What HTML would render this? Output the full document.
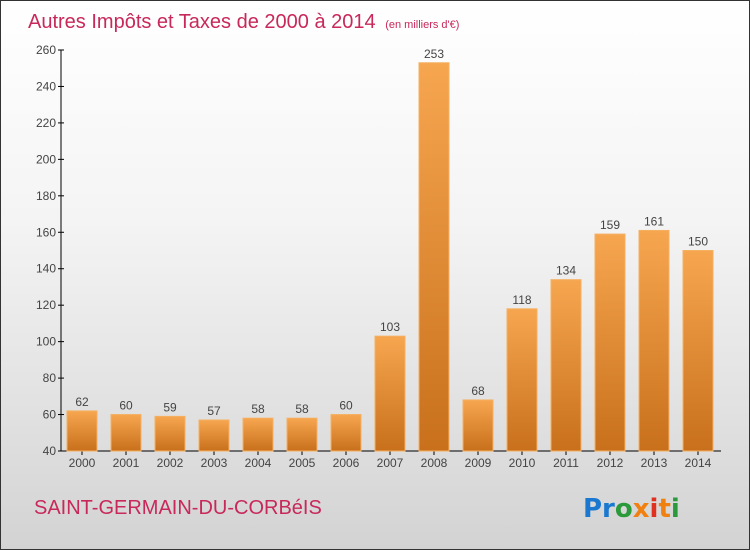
<!DOCTYPE html>
<html><head><meta charset="utf-8"><style>
body{margin:0;}
#wrap{position:relative;width:748px;height:548px;border:1px solid #333;background:linear-gradient(#ffffff,#f4f4f4 40%,#d3d3d3);font-family:"Liberation Sans",sans-serif;overflow:hidden}
</style></head><body>
<div id="wrap">
<svg id="chart" width="748" height="548">
<defs><linearGradient id="bg" x1="0" y1="0" x2="0" y2="1"><stop offset="0" stop-color="#f7a650"/><stop offset="1" stop-color="#c8701c"/></linearGradient></defs>
<text x="27" y="27" font-size="20" fill="#c8285a">Autres Impôts et Taxes de 2000 à 2014 <tspan font-size="11" dx="4">(en milliers d'€)</tspan></text>
<text x="33" y="513" font-size="20" fill="#c8285a">SAINT-GERMAIN-DU-CORBéIS</text>
<g font-size="26" font-weight="bold" font-family="'DejaVu Sans',sans-serif">
<text x="582" y="516"><tspan fill="#1a78d0">Pr</tspan><tspan fill="#2a9a3a">o</tspan><tspan fill="#f08010">x</tspan><tspan fill="#e03020">i</tspan><tspan fill="#f08010">t</tspan><tspan fill="#2a9a3a">i</tspan></text></g>
<g id="axes"></g><g id="bars"></g>
</svg></div>
<script>
const categories=["2000","2001","2002","2003","2004","2005","2006","2007","2008","2009","2010","2011","2012","2013","2014"];
const values=[62,60,59,57,58,58,60,103,253,68,118,134,159,161,150];
const ticks=[40,60,80,100,120,140,160,180,200,220,240,260];
const NS="http://www.w3.org/2000/svg";
const y0=450,yTop=49,vMin=40,vMax=260;
const y=v=>y0-(v-vMin)/(vMax-vMin)*(y0-yTop);
const x=i=>66+i*44;
const bw=30;
function mk(t,a,p){const e=document.createElementNS(NS,t);for(const k in a)e.setAttribute(k,a[k]);p.appendChild(e);return e;}
const ax=document.getElementById('axes'),bs=document.getElementById('bars');
let l=mk('line',{x1:60,y1:yTop,x2:60,y2:y0,stroke:'#000'},ax);


l=mk('line',{x1:60,y1:y0,x2:720,y2:y0,stroke:'#000'},ax);


ticks.forEach(t=>{mk('line',{x1:57,x2:63,y1:y(t),y2:y(t),stroke:'#000'},ax);
const tx=mk('text',{x:55,y:y(t)+4,'text-anchor':'end','font-size':12,fill:'#444'},ax);tx.textContent=t;

});
categories.forEach((c,i)=>{
const r=mk('rect',{x:x(i),y:y(values[i]),width:bw,height:y0-y(values[i]),fill:'url(#bg)',stroke:'#f5b060','stroke-width':1},bs);


const v=mk('text',{x:x(i)+bw/2,y:y(values[i])-5,'text-anchor':'middle','font-size':12,fill:'#444'},bs);v.textContent=values[i];


mk('line',{x1:x(i)+bw/2,x2:x(i)+bw/2,y1:y0,y2:y0+4,stroke:'#000'},ax);
const t=mk('text',{x:x(i)+bw/2,y:y0+16,'text-anchor':'middle','font-size':12,fill:'#444'},ax);t.textContent=c;


});
</script>
</body></html>
